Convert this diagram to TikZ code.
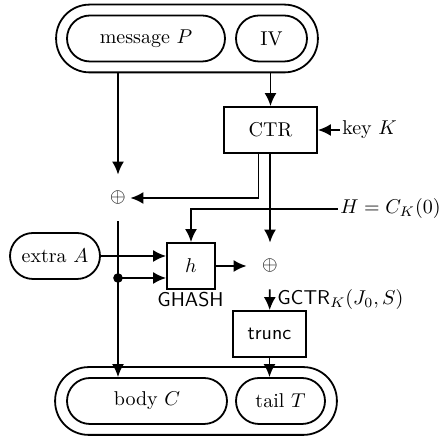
\documentclass[tikz,border=0pt]{standalone}
\usepackage{amsmath,amssymb}
\usepackage{tikz}
\usetikzlibrary{arrows.meta,positioning,fit}
\tikzset{
  % capsule nodes for the inputs and outputs, plain boxes for the steps
  capsule/.style = {rectangle, rounded corners=11.5pt, draw, line width=0.9pt,
                    minimum height=23pt, inner sep=2pt, font=\normalsize},
  outer/.style   = {rectangle, rounded corners=16.75pt, draw, line width=0.9pt,
                    inner sep=5pt},
  blk/.style     = {rectangle, draw, line width=0.9pt, minimum height=23pt,
                    inner sep=2pt, align=center},
  xor/.style     = {rectangle, minimum height=23pt, minimum width=12pt, inner sep=0pt},
  arr/.style     = {-{Latex[length=6.5pt,width=6pt]}, line width=0.9pt},
  lbl/.style     = {inner sep=1pt, align=center},
  tap/.style     = {circle, fill, inner sep=1.7pt},
}

\begin{document}
\begin{tikzpicture}[x=0.5pt,y=-0.5pt]
\useasboundingbox (0,0) rectangle (446,437);
% inputs
\node[capsule, minimum width=79pt] (msg) at (146,38.5) {message $P$};
\node[capsule, minimum width=35.5pt] (iv) at (271.5,38.5) {IV};
\node[outer, fit=(msg)(iv)] (inputs) {};
% keystream
\node[blk, minimum width=46.5pt] (ctr) at (270.5,130) {CTR};
\node[lbl, right=11pt of ctr] (key) {key $K$};
\node[xor] (x1) at (118,198) {$\oplus$};
\node[lbl, anchor=west] (hkey) at (338,209) {$H = C_K(0)$};
% tag
\node[capsule, minimum width=45pt] (ad) at (55,256) {extra $A$};
\node[blk, minimum width=24pt] (h) at (191,266) {$h$};
\node[lbl] (ghash) at (190.5,300) {\textsf{GHASH}};
\node[xor, minimum width=23pt] (x2) at (270,266) {$\oplus$};
\node[lbl, anchor=west] (gctr) at (275,300) {$\mathsf{GCTR}_K(J_0, S)$};
\node[blk, minimum width=36.5pt] (trunc) at (269.5,334) {\textsf{trunc}};
% outputs
\node[capsule, minimum width=80pt] (body) at (147,401) {body $C$};
\node[capsule, minimum width=44.5pt] (tail) at (280.5,401) {tail $T$};
\node[outer, fit=(body)(tail), inner xsep=5.5pt] (outputs) {};
\coordinate (fork) at (118,278);

\draw[arr] (inputs.south -| x1) -- (x1);
\draw[arr] (ctr.north |- inputs.south) -- (ctr.north);
\draw[arr] (key) -- (ctr);
\draw[arr] ([xshift=-6pt]ctr.south) |- (x1);
\draw[arr] (ctr.south -| x2) -- (x2);
\draw[arr] (hkey.west) -| (h.north);
\draw[arr] (ad.east) -- (ad.east -| h.west);
\draw[arr] (x1) -- (x1 |- body.north);
\node[tap] (forkdot) at (fork) {};
\draw[arr] (fork) -- (fork -| h.west);
\draw[arr] (h) -- (x2);
\draw[arr] (x2) -- (trunc);
\draw[arr] (trunc) -- (trunc.south |- tail.north);
\end{tikzpicture}
\end{document}
